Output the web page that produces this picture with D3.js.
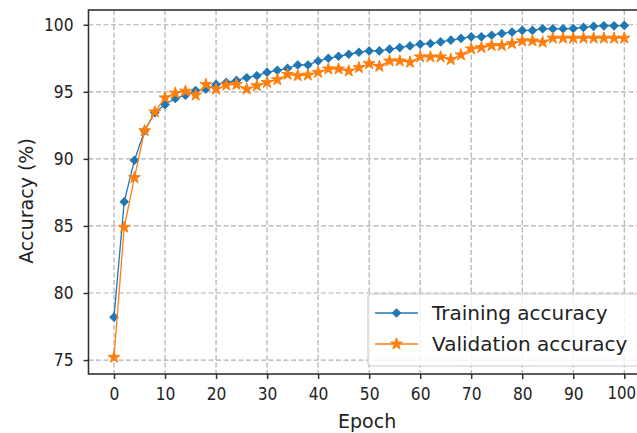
<!DOCTYPE html>
<html>
<head>
<meta charset="utf-8">
<script src="https://cdn.jsdelivr.net/npm/d3@7"></script>
<style>
  body { margin: 0; background: #fff; }
  svg { display: block; font-family: "DejaVu Sans", sans-serif; }
</style>
</head>
<body>
<div id="chart"></div>
<script>
// data
const epochs = [0, 2, 4, 6, 8, 10, 12, 14, 16, 18, 20, 22, 24, 26, 28, 30, 32, 34, 36, 38, 40,
  42, 44, 46, 48, 50, 52, 54, 56, 58, 60, 62, 64, 66, 68, 70, 72, 74, 76, 78, 80,
  82, 84, 86, 88, 90, 92, 94, 96, 98, 100];

const trainingAcc = [78.2, 86.8, 89.9, 92.1, 93.45, 94.05, 94.5, 94.75, 95.1, 95.2, 95.55,
  95.7, 95.85, 96.05, 96.2, 96.45, 96.6, 96.75, 97.0, 97.0, 97.3,
  97.5, 97.65, 97.8, 97.95, 98.05, 98.05, 98.18, 98.3, 98.42, 98.55,
  98.6, 98.72, 98.85, 98.98, 99.1, 99.1, 99.22, 99.35, 99.45, 99.58,
  99.58, 99.7, 99.7, 99.7, 99.72, 99.8, 99.88, 99.92, 99.92, 99.95];

const validationAcc = [75.2, 84.9, 88.6, 92.1, 93.5, 94.55, 94.9, 95.05, 94.75, 95.55, 95.2,
  95.5, 95.55, 95.2, 95.45, 95.7, 95.9, 96.3, 96.2, 96.25, 96.45,
  96.7, 96.7, 96.55, 96.8, 97.1, 96.9, 97.3, 97.3, 97.2, 97.6,
  97.6, 97.6, 97.4, 97.75, 98.2, 98.3, 98.45, 98.45, 98.6, 98.8,
  98.8, 98.7, 99.0, 99.0, 99.0, 99.0, 99.0, 99.0, 99.0, 99.0];

const xTicks = [0, 10, 20, 30, 40, 50, 60, 70, 80, 90, 100];
const yTicks = [75, 80, 85, 90, 95, 100];
const seriesNames = ["Training accuracy", "Validation accuracy"];

const width = 637;
const height = 433;
const plotL = 88.5, plotR = 649.8, plotT = 10, plotB = 374;
const squeeze = 0.86; // tick labels in the picture are narrow for their height

const svg = d3.select("#chart")
  .append("svg")
  .attr("width", width)
  .attr("height", height);

const x = d3.scaleLinear().domain([-5, 105]).range([plotL, plotR]);
const y = d3.scaleLinear().domain([73.96, 101.1]).range([plotB, plotT]);

// grid
const grid = svg.append("g")
  .attr("stroke", "#b0b0b0")
  .attr("stroke-width", 1.2)
  .attr("stroke-dasharray", "5,2.5");
grid.selectAll(".vx").data(xTicks).enter().append("line")
  .attr("x1", d => x(d)).attr("x2", d => x(d))
  .attr("y1", plotT).attr("y2", plotB);
grid.selectAll(".hy").data(yTicks).enter().append("line")
  .attr("x1", plotL).attr("x2", plotR)
  .attr("y1", d => y(d)).attr("y2", d => y(d));

svg.append("clipPath").attr("id", "plot-clip")
  .append("rect").attr("x", plotL).attr("y", plotT)
  .attr("width", plotR - plotL).attr("height", plotB - plotT);

const series = [
  { name: seriesNames[0], values: trainingAcc, color: "#1f77b4",
    symbol: d3.symbol().type(d3.symbolSquare).size(34), rotate: 45 },
  { name: seriesNames[1], values: validationAcc, color: "#ff7f0e",
    symbol: d3.symbol().type(d3.symbolStar).size(44), rotate: 0 }
];

const line = d3.line()
  .x((d, i) => x(epochs[i]))
  .y(d => y(d));

const plot = svg.append("g").attr("clip-path", "url(#plot-clip)");

series.forEach(s => {
  const g = plot.append("g");
  g.append("path")
    .attr("d", line(s.values))
    .attr("fill", "none")
    .attr("stroke", s.color)
    .attr("stroke-width", 1.3);
  g.selectAll("path.mark")
    .data(s.values)
    .enter()
    .append("path")
    .attr("class", "mark")
    .attr("d", s.symbol())
    .attr("transform", (d, i) => `translate(${x(epochs[i])},${y(d)}) rotate(${s.rotate})`)
    .attr("fill", s.color)
    .attr("stroke", s.color)
    .attr("stroke-width", 1);
});

// axes
const xAxis = svg.append("g")
  .attr("transform", `translate(0,${plotB})`)
  .call(d3.axisBottom(x).tickValues(xTicks).tickSize(5).tickPadding(8).tickFormat(d3.format("d")));
const yAxis = svg.append("g")
  .attr("transform", `translate(${plotL},0)`)
  .call(d3.axisLeft(y).tickValues(yTicks).tickSize(5).tickPadding(10).tickFormat(d3.format("d")));

[xAxis, yAxis].forEach(a => {
  a.select(".domain").remove();
  a.selectAll(".tick line").attr("stroke", "#333").attr("stroke-width", 1.5);
  a.selectAll(".tick text")
    .attr("fill", "#222")
    .attr("transform", `scale(${squeeze},1)`)
    .style("font-family", "DejaVu Sans")
    .style("font-size", "18px");
});
yAxis.selectAll(".tick text").attr("x", -15 / squeeze);
// last x label sits right at the picture edge
xAxis.selectAll(".tick text")
  .filter(d => d === 100)
  .style("font-size", "17.5px")
  .attr("x", -3 / squeeze);

// spines
svg.append("rect")
  .attr("x", plotL).attr("y", plotT)
  .attr("width", plotR - plotL).attr("height", plotB - plotT)
  .attr("fill", "none")
  .attr("stroke", "#333")
  .attr("stroke-width", 1.6);

// axis labels
svg.append("text")
  .attr("x", (plotL + plotR) / 2 - 2)
  .attr("y", 428)
  .attr("text-anchor", "middle")
  .attr("fill", "#222")
  .style("font-size", "19px")
  .text("Epoch");

svg.append("text")
  .attr("transform", `translate(33,${(plotT + plotB) / 2 + 9}) rotate(-90)`)
  .attr("text-anchor", "middle")
  .attr("fill", "#222")
  .style("font-size", "19px")
  .text("Accuracy (%)");

// legend
const legend = svg.append("g");
legend.append("rect")
  .attr("x", 368).attr("y", 294)
  .attr("width", 275).attr("height", 72)
  .attr("rx", 3)
  .attr("fill", "#fff").attr("fill-opacity", 0.8)
  .attr("stroke", "#cccccc").attr("stroke-width", 1.2);

const item = legend.selectAll("g.item")
  .data(series)
  .enter()
  .append("g")
  .attr("class", "item")
  .attr("transform", (d, i) => `translate(0,${313 + i * 31})`);

item.append("line")
  .attr("x1", 375).attr("x2", 418)
  .attr("stroke", d => d.color)
  .attr("stroke-width", 1.3);
item.append("path")
  .attr("d", d => d.symbol())
  .attr("transform", d => `translate(396.5,0) rotate(${d.rotate})`)
  .attr("fill", d => d.color)
  .attr("stroke", d => d.color);
item.append("text")
  .attr("x", 432)
  .attr("dy", "0.36em")
  .attr("fill", "#222")
  .style("font-size", "20px")
  .text(d => d.name);
</script>
</body>
</html>
